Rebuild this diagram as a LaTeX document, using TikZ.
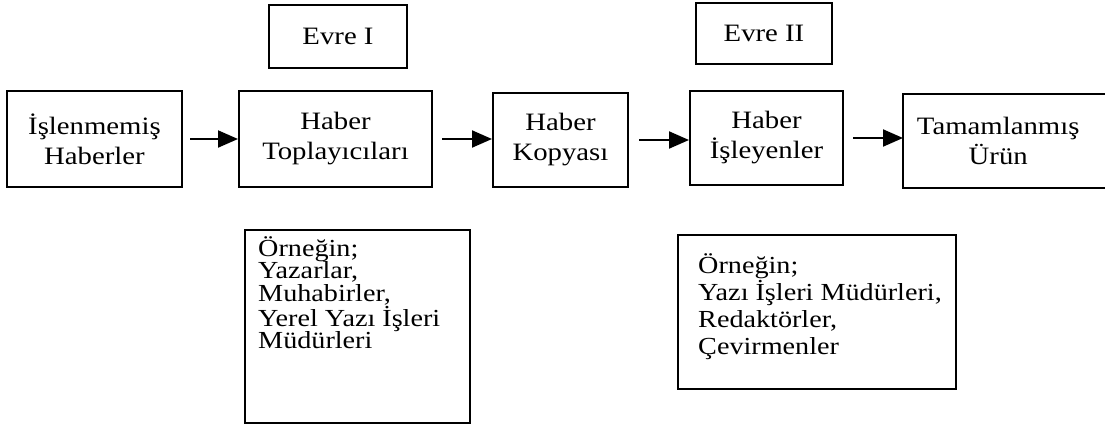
\documentclass[tikz,border=0pt]{standalone}
\usepackage{fontspec}
\setmainfont{Liberation Serif}[FakeStretch=1.15]
\usetikzlibrary{arrows.meta}
\begin{document}
\begin{tikzpicture}[x=1pt,y=-1pt,
  box/.style={draw, line width=2pt, inner sep=0pt},
  flowbox/.style={box, align=center, font=\fontsize{25}{30}\selectfont},
  listtext/.style={inner sep=0pt, align=left, anchor=north west},
  arr/.style={line width=2pt, -{Triangle[length=20pt,width=17pt]}}]
\useasboundingbox (0,0) rectangle (1105,426);

% phase labels
\node[flowbox, minimum width=138, minimum height=63] (evre1) at (338,36.5) {Evre I};
\node[flowbox, minimum width=136, minimum height=61] (evre2) at (764,33.5) {Evre II};

% main flow
\node[flowbox, minimum width=175, minimum height=96] (ham) at (94.5,139) {İşlenmemiş\\Haberler};
\node[flowbox, minimum width=193, minimum height=96] (topla) at (335.5,139) {Haber\\Toplayıcıları};
\node[flowbox, minimum width=135, minimum height=94] (kopya) at (560.5,140) {Haber\\Kopyası};
\node[flowbox, minimum width=153, minimum height=94] (isle) at (766.5,138) {Haber\\İşleyenler};
% the last box runs off the right edge
\node[align=center, font=\fontsize{25}{30}\selectfont, inner sep=0pt,
      anchor=west, text width=190, minimum height=94] (urun) at (903,141) {Tamamlanmış\\Ürün};
\draw[line width=2pt] ([xshift=60pt]urun.north east) -- (urun.north west)
  -- (urun.south west) -- ([xshift=60pt]urun.south east);

% connectors
\draw[arr] ([xshift=7pt]ham.east) -- (ham.east -| topla.west);
\draw[arr] ([xshift=9pt]topla.east) -- (topla.east -| kopya.west);
\draw[arr] ([xshift=10pt]kopya.east) -- (kopya.east -| isle.west);
\draw[arr] ([xshift=9pt]isle.east) -- (isle.east -| urun.west);

% examples
\node[box, anchor=north west, minimum width=225, minimum height=193] (ornek1) at (244,229) {};
\node[listtext, font=\fontsize{24.5}{22.5}\selectfont] (ornek1t)
  at ([xshift=14pt,yshift=-7pt]ornek1.north west)
  {Örneğin;\\Yazarlar,\\Muhabirler,\\Yerel Yazı İşleri\\Müdürleri};
\node[box, anchor=north west, minimum width=278, minimum height=154] (ornek2) at (677,234) {};
\node[listtext, font=\fontsize{24.5}{27}\selectfont] (ornek2t)
  at ([xshift=21pt,yshift=-19pt]ornek2.north west)
  {Örneğin;\\Yazı İşleri Müdürleri,\\Redaktörler,\\Çevirmenler};
\end{tikzpicture}
\end{document}
